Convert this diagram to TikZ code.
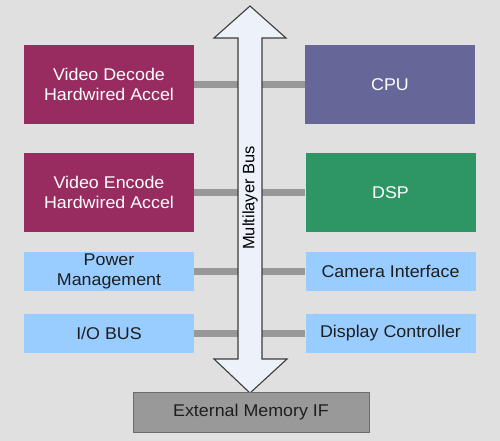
\documentclass[tikz,border=0pt]{standalone}
\usepackage{fontspec}
\setmainfont[FakeStretch=1.05]{Liberation Sans}
\newfontfamily\busfont{Liberation Sans}
\usepackage{xcolor}
\usepackage{tikz}
\usetikzlibrary{positioning,calc}
\definecolor{bgpanel}{RGB}{224,224,224}
\definecolor{accelred}{RGB}{152,44,96}
\definecolor{cpuviolet}{RGB}{102,102,153}
\definecolor{dspgreen}{RGB}{46,150,100}
\definecolor{periblue}{RGB}{153,204,255}
\definecolor{memgray}{RGB}{153,153,153}
\definecolor{linkgray}{RGB}{152,152,152}
\definecolor{busfill}{RGB}{236,241,250}
\definecolor{busline}{RGB}{60,60,60}
\definecolor{textdark}{RGB}{30,30,30}

\begin{document}
\begin{tikzpicture}[x=1pt, y=-1pt,
  every node/.style={font=\fontsize{17}{19.5}\selectfont, align=center, inner sep=0pt},
  bigblock/.style={minimum width=170pt, minimum height=79pt, text=white},
  smallblock/.style={fill=periblue, minimum width=170pt, minimum height=39pt, text=textdark},
  link/.style={draw=linkgray, line width=7pt}]
  % background
  \fill[bgpanel] (0,0) rectangle (500,441);
  \useasboundingbox (0,0) rectangle (500,441);

  % left column
  \node[bigblock, fill=accelred] (decode) at (109,84.5) {Video Decode\\Hardwired Accel};
  \node[bigblock, fill=accelred] (encode) at (109,192.5) {Video Encode\\Hardwired Accel};
  \node[smallblock] (power) at (109,271.5) {Power\\Management};
  \node[smallblock] (iobus) at (109,333.5) {I/O BUS};

  % right column
  \node[bigblock, fill=cpuviolet] (cpu) at (390,84.5) {CPU};
  \node[bigblock, fill=dspgreen] (dsp) at (390.5,192.5) {DSP};
  \node[smallblock] (camera) at (390.5,271.5) {Camera Interface};
  \node[smallblock] (display) at (390.5,333.5) {Display Controller};

  % bus edges
  \coordinate (busL) at (238,200);
  \coordinate (busR) at (262,200);

  % links to the bus
  \foreach \blk in {decode,encode,power,iobus}
    \draw[link] (\blk.east) -- (\blk.east -| busL);
  \foreach \blk in {cpu,dsp,camera,display}
    \draw[link] (\blk.west) -- (\blk.west -| busR);

  % multilayer bus arrow
  \draw[fill=busfill, draw=busline, line width=1.1pt, line join=miter]
    (250,6) -- (286,38) -- (262,38) -- (262,359) -- (287,359) -- (250,393)
    -- (214,359) -- (238,359) -- (238,38) -- (214,38) -- cycle;
  \node[rotate=90, text=black, font=\busfont\fontsize{16.5}{20}\selectfont] (bus) at (250,198) {Multilayer Bus};

  % memory interface
  \node[fill=memgray, draw=gray!85!black, minimum width=236pt, minimum height=40pt,
        text=textdark] (extmem) at (251,412) {External Memory IF};
\end{tikzpicture}
\end{document}
